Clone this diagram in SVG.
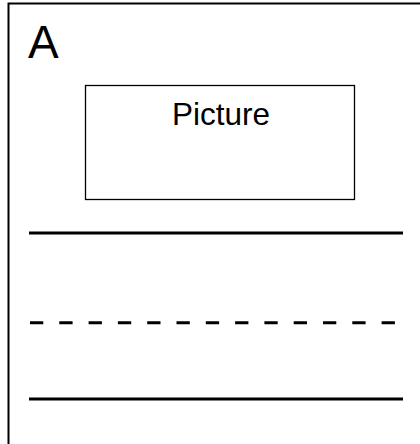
<svg xmlns="http://www.w3.org/2000/svg" width="420" height="444" viewBox="0 0 420 444">
<style>
.t{font-family:"Liberation Sans",Arial,sans-serif;fill:#000}
.ln{stroke:#000;stroke-width:3;fill:none}
</style>
<rect width="420" height="444" fill="#fff"/>
<g id="page">
<rect x="8.5" y="3.5" width="420" height="450" fill="#fff" stroke="#000" stroke-width="2"/>
<text class="t" x="28" y="58" font-size="46">A</text>
</g>
<g id="picture">
<rect x="85.5" y="85.5" width="269" height="114" fill="#fff" stroke="#000" stroke-width="1.3"/>
<text class="t" x="221" y="124.5" font-size="31.5" text-anchor="middle">Picture</text>
</g>
<g id="connectors">
<line class="ln" x1="29" y1="233" x2="403" y2="233"/>
<line class="ln" x1="30" y1="322.7" x2="397" y2="322.7" stroke-dasharray="13.3 16"/>
<line class="ln" x1="29" y1="399" x2="403" y2="399"/>
</g>
</svg>
